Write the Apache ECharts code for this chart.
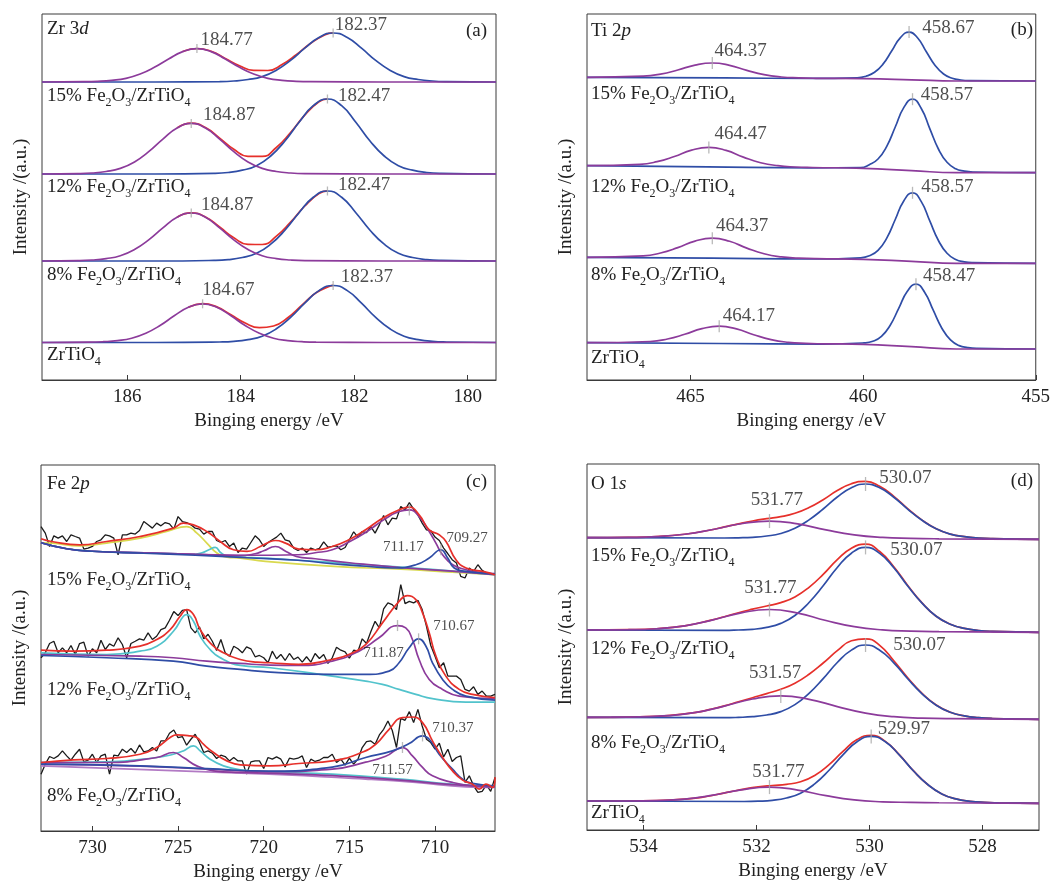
<!DOCTYPE html>
<html>
<head>
<meta charset="utf-8">
<title>XPS spectra of Fe2O3/ZrTiO4</title>
<script src="https://cdn.jsdelivr.net/npm/echarts@6/dist/echarts.min.js"></script>
<style>
  html, body { margin: 0; padding: 0; background: #fff; }
  #chart { width: 1053px; height: 883px; }
</style>
</head>
<body>
<div id="chart"></div>
<script>
// ---------- data: [binding energy (eV), intensity above the spectrum's own baseline (a.u.)] ----------

// (a) Zr 3d
const zrTicks = [180, 182, 184, 186]
const zr15Purple = [[187.5, 0], [186.77, 0.3], [186.52, 0.7], [186.27, 1.7], [186.02, 3.7], [185.77, 8], [185.52, 14.7], [185.27, 23], [185.02, 30.4], [184.77, 33.4], [184.52, 30.4], [184.27, 23], [184.02, 14.7], [183.77, 8], [183.52, 3.7], [183.27, 1.7], [183.02, 0.7], [182.77, 0.3], [181.5, 0], [179.5, 0]]
const zr15Blue = [[187.5, 0], [185.5, 0], [184.37, 0.4], [184.12, 1], [183.87, 2.5], [183.62, 5.4], [183.37, 11.8], [183.12, 21.6], [182.87, 33.8], [182.62, 44.6], [182.37, 49], [182.12, 44.6], [181.87, 33.8], [181.62, 21.6], [181.37, 11.8], [181.12, 5.4], [180.87, 2.5], [180.62, 1], [180.37, 0.4], [179.5, 0]]
const zr15Env = [[185.02, 30.5], [184.77, 33.5], [184.52, 30.7], [184.27, 23.6], [184.02, 16.3], [183.77, 11.6], [183.52, 11.5], [183.27, 17.4], [183.02, 27.2], [182.77, 38.5], [182.52, 47.1], [182.37, 49.1]]
const zr12Purple = [[187.5, 0], [186.87, 0.4], [186.62, 1], [186.37, 2.5], [186.12, 5.6], [185.87, 12.1], [185.62, 22.3], [185.37, 34.9], [185.12, 46], [184.87, 50.6], [184.62, 46], [184.37, 34.9], [184.12, 22.3], [183.87, 12.1], [183.62, 5.6], [183.37, 2.5], [183.12, 1], [182.87, 0.4], [181.5, 0], [179.5, 0]]
const zr12Blue = [[187.5, 0], [185.5, 0], [184.47, 0.6], [184.22, 1.5], [183.97, 3.8], [183.72, 8.3], [183.47, 18], [183.22, 33], [182.97, 51.8], [182.72, 68.3], [182.47, 75], [182.22, 68.3], [181.97, 51.8], [181.72, 33], [181.47, 18], [181.22, 8.3], [180.97, 3.8], [180.72, 1.5], [180.47, 0.6], [179.5, 0]]
const zr12Env = [[185.12, 46.1], [184.87, 50.8], [184.62, 46.4], [184.37, 35.9], [184.12, 24.7], [183.87, 17.7], [183.62, 17.6], [183.37, 26.5], [183.12, 41.5], [182.87, 58.9], [182.62, 72.2], [182.47, 75.1]]
const zr8Purple = [[187.5, 0], [186.87, 0.4], [186.62, 1], [186.37, 2.4], [186.12, 5.3], [185.87, 11.5], [185.62, 21.1], [185.37, 33.1], [185.12, 43.7], [184.87, 48], [184.62, 43.7], [184.37, 33.1], [184.12, 21.1], [183.87, 11.5], [183.62, 5.3], [183.37, 2.4], [183.12, 1], [182.87, 0.4], [181.5, 0], [179.5, 0]]
const zr8Blue = [[187.5, 0], [185.5, 0], [184.47, 0.6], [184.22, 1.4], [183.97, 3.5], [183.72, 7.7], [183.47, 16.8], [183.22, 30.8], [182.97, 48.3], [182.72, 63.7], [182.47, 70], [182.22, 63.7], [181.97, 48.3], [181.72, 30.8], [181.47, 16.8], [181.22, 7.7], [180.97, 3.5], [180.72, 1.4], [180.47, 0.6], [179.5, 0]]
const zr8Env = [[185.12, 43.8], [184.87, 48.1], [184.62, 44.1], [184.37, 34], [184.12, 23.3], [183.87, 16.7], [183.62, 16.5], [183.37, 24.8], [183.12, 38.8], [182.87, 55], [182.62, 67.4], [182.47, 70.1]]
const zr0Purple = [[187.5, 0], [186.67, 0.3], [186.42, 0.8], [186.17, 1.9], [185.92, 4.3], [185.67, 9.3], [185.42, 17], [185.17, 26.7], [184.92, 35.2], [184.67, 38.7], [184.42, 35.2], [184.17, 26.7], [183.92, 17], [183.67, 9.3], [183.42, 4.3], [183.17, 1.9], [182.92, 0.8], [182.67, 0.3], [181.5, 0], [179.5, 0]]
const zr0Blue = [[187.5, 0], [185.5, 0], [184.37, 0.5], [184.12, 1.1], [183.87, 2.9], [183.62, 6.3], [183.37, 13.7], [183.12, 25.1], [182.87, 39.3], [182.62, 51.9], [182.37, 57], [182.12, 51.9], [181.87, 39.3], [181.62, 25.1], [181.37, 13.7], [181.12, 6.3], [180.87, 2.9], [180.62, 1.1], [180.37, 0.5], [179.5, 0]]
const zr0Env = [[184.92, 35.3], [184.67, 38.9], [184.42, 35.6], [184.17, 27.7], [183.92, 19.5], [183.67, 14.9], [183.42, 16.5], [183.17, 24.7], [182.92, 37.3], [182.67, 49.7], [182.42, 56.5], [182.37, 57.1]]
const zr15Peaks = [[184.77, 33.4, '184.77'], [182.37, 49, '182.37']]
const zr12Peaks = [[184.87, 50.6, '184.87'], [182.47, 75, '182.47']]
const zr8Peaks = [[184.87, 48, '184.87'], [182.47, 70, '182.47']]
const zr0Peaks = [[184.67, 38.7, '184.67'], [182.37, 57, '182.37']]

// (b) Ti 2p
const tiTicks = [455, 460, 465]
const ti15Purple = [[468, 3.7], [466.37, 4.8], [465.87, 6.9], [465.37, 11], [464.87, 15.9], [464.37, 18], [463.87, 15.7], [463.37, 10.6], [462.87, 6.3], [462.37, 4], [461.87, 3.1], [461.37, 2.7], [460, 2.3], [458.6, 1.2], [457.3, 0], [455, 0]]
const ti15Blue = [[468, 3.7], [464, 3.1], [461.5, 2.6], [460.17, 3.2], [459.92, 4.8], [459.67, 8.7], [459.42, 17.1], [459.17, 30.2], [458.92, 43.4], [458.67, 48.9], [458.42, 43], [458.17, 29.3], [457.92, 15.8], [457.67, 7], [457.42, 2.7], [457.17, 1], [456.9, 0.4], [455, 0]]
const ti12Purple = [[468, 7], [466.47, 8.3], [465.97, 11], [465.47, 16.2], [464.97, 22.6], [464.47, 25.3], [463.97, 22.3], [463.47, 15.6], [462.97, 10], [462.47, 7], [461.97, 5.7], [461.47, 5.2], [460, 4.4], [458.6, 2.1], [457.3, 0], [455, 0]]
const ti12Blue = [[468, 7], [464.5, 5.8], [461.5, 4.9], [460.07, 5.1], [459.82, 8], [459.57, 13.7], [459.32, 26.1], [459.07, 45.7], [458.82, 65.3], [458.57, 73.5], [458.32, 64.5], [458.07, 44.1], [457.82, 23.7], [457.57, 10.4], [457.32, 3.9], [457.07, 1.6], [456.82, 0.7], [455, 0]]
const ti8Purple = [[468, 6], [466.37, 7.4], [465.87, 10.3], [465.37, 15.7], [464.87, 22.2], [464.37, 25.1], [463.87, 22], [463.37, 15.2], [462.87, 9.5], [462.37, 6.4], [461.87, 5.2], [461.37, 4.6], [460, 4], [458.6, 1.9], [457.3, 0], [455, 0]]
const ti8Blue = [[468, 6], [464.37, 5.1], [461.37, 4.3], [460.07, 5.5], [459.82, 7.5], [459.57, 12.9], [459.32, 25], [459.07, 43.8], [458.82, 62.6], [458.57, 70.5], [458.32, 61.9], [458.07, 42.4], [457.82, 22.8], [457.57, 10], [457.32, 3.8], [457.07, 1.5], [456.82, 0.7], [455, 0]]
const ti0Purple = [[468, 6.3], [466.17, 7.5], [465.67, 10], [465.17, 14.7], [464.67, 20.3], [464.17, 22.8], [463.67, 20.1], [463.17, 14.3], [462.67, 9.4], [462.17, 6.7], [461.67, 5.6], [461.17, 5.2], [460, 4.7], [458.6, 2.3], [457.3, 0], [455, 0]]
const ti0Blue = [[468, 6.3], [464.17, 5.5], [461.17, 4.9], [459.97, 6.1], [459.72, 7.7], [459.47, 12.6], [459.22, 23.5], [458.97, 40.6], [458.72, 57.7], [458.47, 64.8], [458.22, 56.8], [457.97, 38.8], [457.72, 20.8], [457.47, 9.1], [457.22, 3.4], [456.97, 1.4], [456.72, 0.6], [455, 0]]
const ti15Peaks = [[464.37, 18, '464.37'], [458.67, 48.9, '458.67']]
const ti12Peaks = [[464.47, 25.3, '464.47'], [458.57, 73.5, '458.57']]
const ti8Peaks = [[464.37, 25.1, '464.37'], [458.57, 70.5, '458.57']]
const ti0Peaks = [[464.17, 22.8, '464.17'], [458.47, 64.8, '458.47']]

// (c) Fe 2p, raw counts sampled every 0.25 eV from 733 eV down to 706.5 eV
const feTicks = [710, 715, 720, 725, 730]
const feStart = 733
const feStep = 0.25
const fe15Raw = [48.3, 41.7, 28.3, 39, 36.7, 39, 33.3, 40, 38.3, 36.7, 25.7, 26.7, 28.3, 33.3, 35, 40, 39, 36.7, 20, 40, 40, 41.7, 40.7, 44.3, 53.3, 50, 46.7, 51.7, 49, 52.3, 51, 45.7, 58.3, 53.3, 52.3, 50, 46.7, 45.7, 40.7, 43.3, 43.3, 34.3, 32.3, 34.3, 28.3, 31.7, 22.3, 26.7, 25.7, 32.3, 39, 35, 28.3, 32.3,
  35, 37.7, 41.7, 35, 33.7, 26.7, 24.3, 26.7, 22.3, 26.7, 25, 26.3, 33, 27.7, 28.3, 29, 25, 27.3, 35, 43, 37.7, 43.3, 42.3, 48.3, 41.7, 50, 59.3, 50, 56.7, 56, 68.3, 65, 72.3, 65.7, 60, 51.7, 45, 44.3, 37.7, 34.3, 26.7, 21, 15, 11.7, -1.7, -3.3, 6.7, 3.3, 10, 4.3, 1.7, 1, 0]
const fe12Raw = [44.7, 49.7, 59, 61.3, 49.7, 54.7, 49.7, 57, 48, 59, 60.3, 46.3, 53.7, 49.7, 62.3, 53, 58.7, 56.3, 64.7, 58, 44.7, 59, 61.3, 63.7, 62.3, 69.7, 63, 66.3, 73, 74.7, 82.3, 91, 87, 92.3, 93, 74.7, 69.7, 75.7, 63.7, 68.3, 61.3, 52, 63, 49.7, 46.3, 56.3, 53.7, 49.7, 55.7, 53.7, 45.7, 47, 44.7, 39.7,
  51.3, 43.7, 48, 42, 49, 43, 45.3, 40.3, 45.7, 40.3, 49, 44, 48, 39, 44.7, 55.3, 52.3, 50.7, 44.3, 52.3, 51.3, 63.7, 59, 70.7, 81.3, 74.7, 93.7, 99.7, 98, 93, 118, 99, 101.3, 99.7, 102.3, 93, 76.3, 57, 46.3, 34.7, 39.7, 26.3, 26.3, 26.3, 23, 13, 11.3, 15.7, 8, 11.3, 6.3, 6.3, 8]
const fe8Raw = [15, 25, 32.7, 30.7, 33.3, 38.3, 33.3, 29, 35, 40, 27.3, 29, 35, 26.7, 33.3, 35, 15, 34, 33.3, 40, 36.7, 40.7, 36, 44.3, 37.3, 38.3, 41.7, 38.3, 48.3, 48.3, 56, 59.3, 51.7, 52.7, 44, 50, 55, 46.7, 36.7, 38.3, 36, 30.7, 34, 32.7, 28.3, 31.7, 28.3, 28.3, 15, 27.3, 28.3, 28.3, 20.7, 31.7,
  30, 32.3, 30, 22.3, 31, 30, 31, 33.3, 21.7, 30, 27.7, 29, 31.7, 31.7, 35, 26.7, 30, 24, 31, 25, 30, 41.7, 47.7, 48.3, 45, 54.3, 60, 68.3, 59, 41.7, 71, 69, 77.7, 66.7, 80, 63.3, 50, 46.7, 40, 46, 32.3, 40, 27.7, 31.7, 33.3, 6.7, 13.3, 3.3, -3.3, -2.3, 4.3, -2.3, 11.7]
const fe15Env = [[733, 36], [732.39, 33.3], [730.73, 30], [729.17, 33.3], [727.22, 38.3], [725.27, 46.7], [724.69, 51.7], [724.1, 50], [723.32, 43.3], [722.54, 33.3], [721.76, 25], [720.97, 23.3], [720.2, 28.3], [719.61, 33.3], [719.32, 34.3], [718.73, 31.7], [717.95, 25.7], [716.98, 25], [716, 28.3], [715.03, 35], [714.05, 45], [713.07, 56.7], [712.1, 65], [711.51, 67.7], [710.93, 60], [710.34, 45], [709.76, 40], [709.36, 33.3], [708.78, 15], [708.19, 6.7], [707.21, 3.3], [706.5, 0]]
const fe15Yellow = [[733, 32], [732.39, 31.7], [730.73, 29], [729.17, 31.7], [727.22, 36.7], [725.66, 43.3], [724.49, 48.3], [723.9, 41.7], [723.32, 31.7], [722.73, 21.7], [722.15, 17.7], [721.37, 16.7], [719.9, 13.3], [715.9, 8.3], [712, 5.5], [709, 2.5], [706.5, 0]]
const fe15Cyan = [[733, 32], [731.5, 26], [730, 23.5], [727, 22], [725, 21], [724, 20.5], [723.6, 22], [723.2, 25], [722.83, 27.3], [722.5, 22], [722.1, 18.5], [721, 17.5], [718, 14.5], [714, 10], [710, 5], [706.5, 0]]
const fe15Sat = [[733, 32], [731.5, 26], [730, 23.5], [727, 22], [724, 20.5], [721.5, 19], [720.5, 21], [720, 24], [719.32, 28.3], [718.7, 23.3], [718.1, 18.3], [717, 16], [715, 12], [712, 7], [709, 3.5], [706.5, 0]]
const fe15Purple = [[733, 32], [731.5, 26], [730, 23.5], [727, 22], [724, 20.5], [721, 19.5], [718, 20], [717, 22], [716, 25], [715, 33], [714, 43], [713, 55], [712.1, 63.3], [711.5, 65], [710.93, 58.3], [710.34, 43.3], [709.95, 31.7], [709.56, 20], [708.97, 10], [708.19, 5], [707.2, 2], [706.5, 1]]
const fe15Blue = [[733, 32], [731.5, 26], [730, 23.5], [727, 21.5], [724, 19.5], [721, 17], [718, 14.5], [716, 11], [714, 8.5], [712.49, 6.7], [711.12, 10], [710.34, 16.7], [709.66, 25], [709.26, 16.7], [708.88, 6.7], [708.19, 3.3], [707.2, 1.5], [706.5, 0.5]]
const fe12Env = [[733, 52.3], [731.12, 51.3], [729.17, 52.3], [727.22, 56.3], [726.24, 63], [725.46, 73], [724.88, 86.3], [724.49, 93], [724.1, 88], [723.71, 73], [723.13, 59.7], [722.35, 49.7], [721.37, 43], [720.4, 40.3], [719.61, 39.7], [717.95, 38], [716, 43], [715.03, 48], [714.05, 58], [713.07, 79.7], [712.1, 101.3], [711.61, 107], [711.12, 103], [710.73, 89.7], [710.34, 69.7], [709.95, 46.3], [709.37, 26.3], [708.59, 13], [707.81, 8], [706.5, 4.7]]
const fe12Cyan = [[733, 49.7], [729.17, 48], [727.22, 51.3], [726.24, 56.3], [725.27, 71.3], [724.69, 86.3], [724.49, 88], [724.1, 81.3], [723.71, 66.3], [723.13, 53], [722.35, 43], [721.37, 37], [719.61, 34.7], [716, 26.3], [714.05, 21.3], [713.07, 18], [712.1, 13], [711.12, 8], [710.15, 3.7], [708.2, 0.3], [706.5, 0.3]]
const fe12Purple = [[733, 48], [727.22, 46.3], [725.27, 44.7], [723.32, 41.3], [721.37, 39], [719.61, 37.3], [717.95, 37], [716, 41.3], [714.44, 51.3], [713.27, 64.7], [712.19, 77], [711.71, 74.7], [711.32, 63], [710.93, 43], [710.34, 23], [709.56, 13], [708.59, 6.3], [706.5, 3.7]]
const fe12Blue = [[733, 47], [729.17, 44.7], [725.27, 41.3], [723.32, 36.3], [721.37, 33], [719.61, 30.3], [716, 28], [714.05, 28], [712.68, 31.3], [712.1, 39.7], [711.51, 54.7], [710.96, 63.7], [710.53, 56.3], [710.15, 39.7], [709.56, 23], [708.98, 13], [708.2, 6.3], [706.5, 2.3]]
const fe8Env = [[733, 26.7], [731.12, 29.3], [729.17, 30.7], [727.22, 35], [726.24, 41.7], [725.46, 51.7], [725.07, 54.3], [724.3, 53.3], [723.91, 51.7], [723.52, 45], [722.93, 36.7], [722.15, 28.3], [721.37, 24.3], [719.61, 23.3], [717.95, 25.7], [716, 28.3], [714.44, 35.7], [713.46, 45], [712.68, 60], [711.9, 71.7], [711.32, 72.3], [710.73, 66.7], [710.15, 48.3], [709.56, 31.7], [708.98, 18.3], [708.39, 9], [707.81, 5], [707.42, 0], [707.03, 5], [706.64, 1.7], [706.5, 12]]
const fe8Cyan = [[733, 26.7], [729.17, 27.3], [726.24, 31.7], [725.27, 35], [724.69, 38.3], [724.1, 43.3], [723.71, 38.3], [723.13, 30], [722.35, 23.3], [721.37, 19.3], [719.61, 17.3], [716, 15], [712, 10], [709, 5], [706.5, 3]]
const fe8Sat = [[733, 26.7], [729.17, 26.7], [726.24, 31.7], [725.27, 36.7], [724.69, 31.7], [723.91, 23.3], [722.93, 18.3], [721.37, 16.7], [719.61, 16], [716, 13.5], [712, 9], [709, 4.5], [706.5, 2.5]]
const fe8Purple = [[733, 25], [727.22, 23], [723.32, 20], [719.7, 17.5], [716, 20], [714.05, 27], [712.88, 33], [711.9, 41.7], [711.32, 33.3], [710.73, 21.7], [710.15, 13.3], [708.98, 6.7], [707.81, 3.3], [706.5, 2.3]]
const fe8Blue = [[733, 25], [727.22, 23.3], [723.32, 20.5], [719.7, 18], [716, 22], [714.05, 31.7], [712.49, 38.3], [711.51, 45.7], [710.73, 53.3], [710.34, 50], [709.76, 35], [708.98, 20], [708.39, 10], [707.81, 5.7], [706.5, 3.3]]
const fe8Back = [[733, 23.3], [719.7, 15], [714.05, 10], [711.12, 6.7], [708.2, 2.3], [706.5, 1.7]]
const fe15Peaks = [[711.5, 65, '711.17'], [709.66, 25, '709.27']]
const fe12Peaks = [[712.19, 77, '711.87'], [710.96, 63.7, '710.67']]
const fe8Peaks = [[711.9, 41.7, '711.57'], [710.73, 53.3, '710.37']]

// (d) O 1s
const oTicks = [528, 530, 532, 534]
const o15Blue = [[535, 1.6], [532.57, 1.3], [532.32, 1.5], [532.07, 2], [531.82, 3.3], [531.57, 5.8], [531.32, 11], [531.07, 19.4], [530.82, 30.3], [530.57, 42.3], [530.32, 51.6], [530.07, 55.3], [529.82, 51.5], [529.57, 42.1], [529.32, 30], [529.07, 19], [528.82, 10.5], [528.57, 5.2], [528.32, 2.6], [528.07, 1.2], [527.82, 0.6], [527, 0]]
const o15Purple = [[535, 1.6], [534.77, 1.7], [534.27, 1.9], [533.77, 2.65], [533.27, 5.05], [532.77, 9.8], [532.27, 15.55], [531.77, 18.25], [531.27, 15.35], [530.77, 9.4], [530.27, 4.45], [529.77, 1.85], [529.27, 0.9], [528.77, 0.5], [527, 0]]
const o15Env = [[535, 1.6], [534.27, 1.9], [533.77, 2.65], [533.27, 5.05], [532.82, 9.3], [532.57, 12.4], [532.32, 15.5], [532.07, 18.3], [531.82, 20.6], [531.57, 22.6], [531.32, 26], [531.07, 31.7], [530.82, 39.6], [530.57, 48.7], [530.32, 55.6], [530.07, 58], [529.82, 53], [529.57, 42.9], [529.32, 30.4], [529.07, 19.2], [528.82, 10.5], [528.57, 5.2], [528.32, 2.6], [528.07, 1.2], [527.82, 0.6], [527, 0]]
const o12Blue = [[535, 2.3], [532.57, 1.9], [532.32, 2.3], [532.07, 3], [531.82, 4.9], [531.57, 8.9], [531.32, 16.8], [531.07, 29.8], [530.82, 46.5], [530.57, 64.8], [530.32, 79.1], [530.07, 84.9], [529.82, 78.9], [529.57, 64.6], [529.32, 46.1], [529.07, 29.2], [528.82, 16], [528.57, 8.1], [528.32, 3.9], [528.07, 1.8], [527.82, 0.95], [527, 0]]
const o12Purple = [[535, 2.3], [534.77, 2.45], [534.27, 2.6], [533.77, 3.55], [533.27, 6.5], [532.77, 12.35], [532.27, 19.5], [531.77, 22.8], [531.27, 19.25], [530.77, 11.8], [530.27, 5.65], [529.77, 2.4], [529.27, 1.2], [528.77, 0.7], [527, 0]]
const o12Env = [[535, 2.3], [534.27, 2.6], [533.77, 3.55], [533.27, 6.5], [532.82, 11.9], [532.57, 15.6], [532.32, 19.6], [532.07, 23.1], [531.82, 26.3], [531.57, 29.7], [531.32, 35.4], [531.07, 45], [530.82, 57.9], [530.57, 72.7], [530.32, 84.1], [530.07, 88.2], [529.82, 80.8], [529.57, 65.5], [529.32, 46.6], [529.07, 29.4], [528.82, 16], [528.57, 8.1], [528.32, 3.9], [528.07, 1.8], [527.82, 0.95], [527, 0]]
const o8Blue = [[535, 2], [532.57, 1.6], [532.32, 1.9], [532.07, 2.6], [531.82, 4.3], [531.57, 7.7], [531.32, 14.7], [531.07, 26], [530.82, 40.7], [530.57, 56.8], [530.32, 69.2], [530.07, 74.3], [529.82, 69.1], [529.57, 56.5], [529.32, 40.3], [529.07, 25.5], [528.82, 14.1], [528.57, 7], [528.32, 3.4], [528.07, 1.6], [527.82, 0.8], [527, 0]]
const o8Purple = [[535, 2], [534.57, 2.1], [534.07, 2.5], [533.57, 3.6], [533.07, 6.9], [532.57, 13.2], [532.07, 20.3], [531.57, 23.4], [531.07, 20], [530.57, 12.7], [530.07, 6.2], [529.57, 2.6], [529.07, 1.2], [528.57, 0.6], [527, 0]]
const o8Env = [[535, 2], [534.07, 2.5], [533.57, 3.6], [533.07, 6.9], [532.82, 9.9], [532.57, 13.4], [532.32, 17.5], [532.07, 21.6], [531.82, 25.7], [531.57, 30], [531.32, 36.1], [531.07, 45], [530.82, 56.3], [530.57, 68.6], [530.32, 78.5], [530.07, 80.5], [529.82, 74], [529.57, 58.5], [529.32, 41.3], [529.07, 26], [528.82, 14.3], [528.57, 7], [528.32, 3.4], [528.07, 1.6], [527.82, 0.8], [527, 0]]
const o0Blue = [[535, 2.3], [532.22, 1.8], [531.97, 2.1], [531.72, 3], [531.47, 5.3], [531.22, 10.1], [530.97, 19.4], [530.72, 32.8], [530.47, 48.5], [530.22, 61.6], [529.97, 66.9], [529.72, 61.5], [529.47, 48.2], [529.22, 32.3], [528.97, 18.8], [528.72, 9.4], [528.47, 4.4], [528.22, 2], [527.97, 0.9], [527.72, 0.5], [527, 0]]
const o0Purple = [[535, 2.3], [534.27, 2.3], [533.77, 2.7], [533.27, 4.2], [532.77, 8.15], [532.27, 13.5], [531.77, 16.2], [531.27, 13.25], [530.77, 7.6], [530.27, 3.35], [529.77, 1.5], [529.27, 0.9], [528.77, 0.55], [527, 0]]
const o0Env = [[535, 2.3], [534.27, 2.3], [533.77, 2.7], [533.27, 4.2], [532.97, 6], [532.72, 8.55], [532.47, 11.4], [532.22, 14.2], [531.97, 16.4], [531.72, 17.8], [531.47, 19], [531.22, 21.5], [530.97, 27.9], [530.72, 38.5], [530.47, 51.9], [530.22, 63.7], [529.97, 68], [529.72, 61.9], [529.47, 48.4], [529.22, 32.4], [528.97, 18.8], [528.72, 9.4], [528.47, 4.4], [528.22, 2], [527.97, 0.9], [527.72, 0.5], [527, 0]]
const o15Peaks = [[531.77, 18.25, '531.77'], [530.07, 55.3, '530.07']]
const o12Peaks = [[531.77, 22.8, '531.77'], [530.07, 84.9, '530.07']]
const o8Peaks = [[531.57, 23.4, '531.57'], [530.07, 74.3, '530.07']]
const o0Peaks = [[531.77, 16.2, '531.77'], [529.97, 66.9, '529.97']]

// ---------- layout & style ----------
const SERIF = "'Liberation Serif', 'DejaVu Serif', serif"
const TXT = '#222'
const RED = '#e6302b'
const BLUE = '#2f4da6'
const PURPLE = '#8c3b9b'
const CYAN = '#52c3cc'
const YELLOW = '#d9d94e'
const LILAC = '#b27ac4'
const BLACK = '#1b1b1b'

const S15 = '{n|15% Fe}{s|2}{n|O}{s|3}{n|/ZrTiO}{s|4}'
const S12 = '{n|12% Fe}{s|2}{n|O}{s|3}{n|/ZrTiO}{s|4}'
const S8 = '{n|8% Fe}{s|2}{n|O}{s|3}{n|/ZrTiO}{s|4}'
const S0 = '{n|ZrTiO}{s|4}'

function rawPairs(values) {
  return values.map((v, i) => [feStart - feStep * i, v])
}

// each spectrum: vertical stacking offset, sample label (placed under the trace), fitted curves, marked peaks
const panels = [
  {
    grid: { left: 42, top: 14, width: 454, height: 366 }, min: 179.5, max: 187.5, yMax: 366, ticks: zrTicks,
    title: '{n|Zr 3}{i|d}', tag: '(a)', titlePos: [47, 29], tagPos: [487, 31], tickLen: 9, peakFont: 19,
    spectra: [
      { offset: 298, text: S15, textY: 96, curves: [[zr15Env, RED], [zr15Blue, BLUE], [zr15Purple, PURPLE]], peaks: zr15Peaks, shifts: [[3, -9], [1, -8]] },
      { offset: 206, text: S12, textY: 187, curves: [[zr12Env, RED], [zr12Blue, BLUE], [zr12Purple, PURPLE]], peaks: zr12Peaks, shifts: [[11, -8], [10, -3]] },
      { offset: 119, text: S8, textY: 275, curves: [[zr8Env, RED], [zr8Blue, BLUE], [zr8Purple, PURPLE]], peaks: zr8Peaks, shifts: [[9, -8], [10, -6]] },
      { offset: 37.5, text: S0, textY: 355, curves: [[zr0Env, RED], [zr0Blue, BLUE], [zr0Purple, PURPLE]], peaks: zr0Peaks, shifts: [[-1, -14], [7, -8]] }
    ]
  },
  {
    grid: { left: 587, top: 14, width: 452, height: 366 }, min: 455, max: 468, yMax: 366, ticks: tiTicks,
    title: '{n|Ti 2}{i|p}', tag: '(b)', titlePos: [591, 31], tagPos: [1033, 30], tickLen: 12, peakFont: 19,
    spectra: [
      { offset: 299, text: S15, textY: 94, curves: [[ti15Blue, BLUE], [ti15Purple, PURPLE]], peaks: ti15Peaks, shifts: [[1.5, -12], [12.5, -4]] },
      { offset: 207.3, text: S12, textY: 187, curves: [[ti12Blue, BLUE], [ti12Purple, PURPLE]], peaks: ti12Peaks, shifts: [[5, -13], [7.5, -4]] },
      { offset: 116.7, text: S8, textY: 275, curves: [[ti8Blue, BLUE], [ti8Purple, PURPLE]], peaks: ti8Peaks, shifts: [[3, -12], [8, -5.5]] },
      { offset: 31, text: S0, textY: 358, curves: [[ti0Blue, BLUE], [ti0Purple, PURPLE]], peaks: ti0Peaks, shifts: [[3, -10.5], [6.5, -8]] }
    ]
  },
  {
    grid: { left: 41, top: 465, width: 454, height: 367 }, min: 706.5, max: 733, yMax: 367, ticks: feTicks,
    title: '{n|Fe 2}{i|p}', tag: '(c)', titlePos: [47, 484], tagPos: [487, 482], tickLen: 11, peakFont: 15,
    spectra: [
      { offset: 257, text: S15, textY: 580, raw: fe15Raw,
        curves: [[fe15Yellow, YELLOW], [fe15Cyan, CYAN], [fe15Sat, PURPLE], [fe15Purple, PURPLE], [fe15Blue, BLUE], [fe15Env, RED]],
        peaks: fe15Peaks, shifts: [[-27, 37], [5, -12]] },
      { offset: 129, text: S12, textY: 690, raw: fe12Raw,
        curves: [[fe12Cyan, CYAN], [fe12Purple, PURPLE], [fe12Blue, BLUE], [fe12Env, RED]],
        peaks: fe12Peaks, shifts: [[-35, 28], [14, -13]] },
      { offset: 42, text: S8, textY: 796, raw: fe8Raw,
        curves: [[fe8Back, LILAC], [fe8Cyan, CYAN], [fe8Sat, PURPLE], [fe8Purple, PURPLE], [fe8Blue, BLUE], [fe8Env, RED]],
        peaks: fe8Peaks, shifts: [[-31, 23], [9, -7.5]] }
    ]
  },
  {
    grid: { left: 587, top: 464, width: 452, height: 366 }, min: 527, max: 535, yMax: 366, ticks: oTicks,
    title: '{n|O 1}{i|s}', tag: '(d)', titlePos: [591, 484], tagPos: [1033, 481], tickLen: 14, peakFont: 19,
    spectra: [
      { offset: 290.7, text: S15, textY: 556, curves: [[o15Env, RED], [o15Blue, BLUE], [o15Purple, PURPLE]], peaks: o15Peaks, shifts: [[-19.5, -21], [13, -6]] },
      { offset: 197.7, text: S12, textY: 649, curves: [[o12Env, RED], [o12Blue, BLUE], [o12Purple, PURPLE]], peaks: o12Peaks, shifts: [[-26, -21], [24, 2.5]] },
      { offset: 110.7, text: S8, textY: 743, curves: [[o8Env, RED], [o8Blue, BLUE], [o8Purple, PURPLE]], peaks: o8Peaks, shifts: [[-32.5, -23], [27, 0]] },
      { offset: 26.7, text: S0, textY: 813, curves: [[o0Env, RED], [o0Blue, BLUE], [o0Purple, PURPLE]], peaks: o0Peaks, shifts: [[-18, -15], [6, -7.5]] }
    ]
  }
]

const RICH = {
  n: { fontSize: 19, fontFamily: SERIF, fill: TXT, lineHeight: 26 },
  i: { fontSize: 19, fontFamily: SERIF, fontStyle: 'italic', fill: TXT, lineHeight: 26 },
  s: { fontSize: 12, fontFamily: SERIF, fill: TXT, verticalAlign: 'bottom' }
}

function textEl(text, x, y, align) {
  return {
    type: 'text', x: x, y: y, silent: true, z: 10,
    style: { text: text, rich: RICH, align: align || 'left', verticalAlign: 'middle' }
  }
}

const chart = echarts.init(document.getElementById('chart'))
const grids = []
const xAxes = []
const yAxes = []
const series = []
const graphics = []

panels.forEach((p, idx) => {
  grids.push(Object.assign({ show: true, borderColor: '#3a3a3a', borderWidth: 1, backgroundColor: 'transparent' }, p.grid))
  xAxes.push({
    gridIndex: idx, type: 'value', inverse: true, min: p.min, max: p.max,
    axisLine: { show: true, onZero: false, lineStyle: { color: '#3a3a3a', width: 1 } },
    axisTick: { show: true, inside: true, length: 5, customValues: p.ticks, lineStyle: { color: '#3a3a3a' } },
    axisLabel: { customValues: p.ticks, fontSize: 19, fontFamily: SERIF, color: TXT, margin: 8 },
    splitLine: { show: false },
    name: 'Binging energy /eV', nameLocation: 'middle', nameGap: 32,
    nameTextStyle: { fontSize: 19, fontFamily: SERIF, color: TXT }
  })
  yAxes.push({
    gridIndex: idx, type: 'value', min: 0, max: p.yMax,
    axisLine: { show: false }, axisTick: { show: false }, axisLabel: { show: false }, splitLine: { show: false },
    name: 'Intensity /(a.u.)', nameLocation: 'middle', nameGap: 11, nameRotate: 90,
    nameTextStyle: { fontSize: 19, fontFamily: SERIF, color: TXT }
  })

  p.spectra.forEach(s => {
    if (s.raw) {
      series.push({
        type: 'line', xAxisIndex: idx, yAxisIndex: idx, symbol: 'none', silent: true, z: 2,
        lineStyle: { color: BLACK, width: 1.3 },
        data: rawPairs(s.raw).map(d => [d[0], d[1] + s.offset])
      })
    }
    s.curves.forEach(c => {
      series.push({
        type: 'line', xAxisIndex: idx, yAxisIndex: idx, symbol: 'none', silent: true, z: 3,
        smooth: 0.5,
        lineStyle: { color: c[1], width: 1.7 },
        data: c[0].map(d => [d[0], d[1] + s.offset])
      })
    })
    series.push({
      type: 'scatter', xAxisIndex: idx, yAxisIndex: idx, silent: true, z: 6,
      symbol: 'rect', symbolSize: [1.3, p.tickLen],
      itemStyle: { color: '#a8a8a8' },
      label: { show: true, position: 'right', distance: 0, formatter: '{b}', fontSize: p.peakFont, fontFamily: SERIF, color: TXT },
      data: s.peaks.map((pk, k) => ({ name: pk[2], value: [pk[0], pk[1] + s.offset], label: { offset: s.shifts[k] } }))
    })
    graphics.push(textEl(s.text, p.titlePos[0], s.textY))
  })
  graphics.push(textEl(p.title, p.titlePos[0], p.titlePos[1]))
  graphics.push(textEl('{n|' + p.tag + '}', p.tagPos[0], p.tagPos[1], 'right'))
})

chart.setOption({
  animation: false,
  backgroundColor: '#fff',
  grid: grids,
  xAxis: xAxes,
  yAxis: yAxes,
  series: series,
  graphic: { elements: graphics }
})
</script>
</body>
</html>
